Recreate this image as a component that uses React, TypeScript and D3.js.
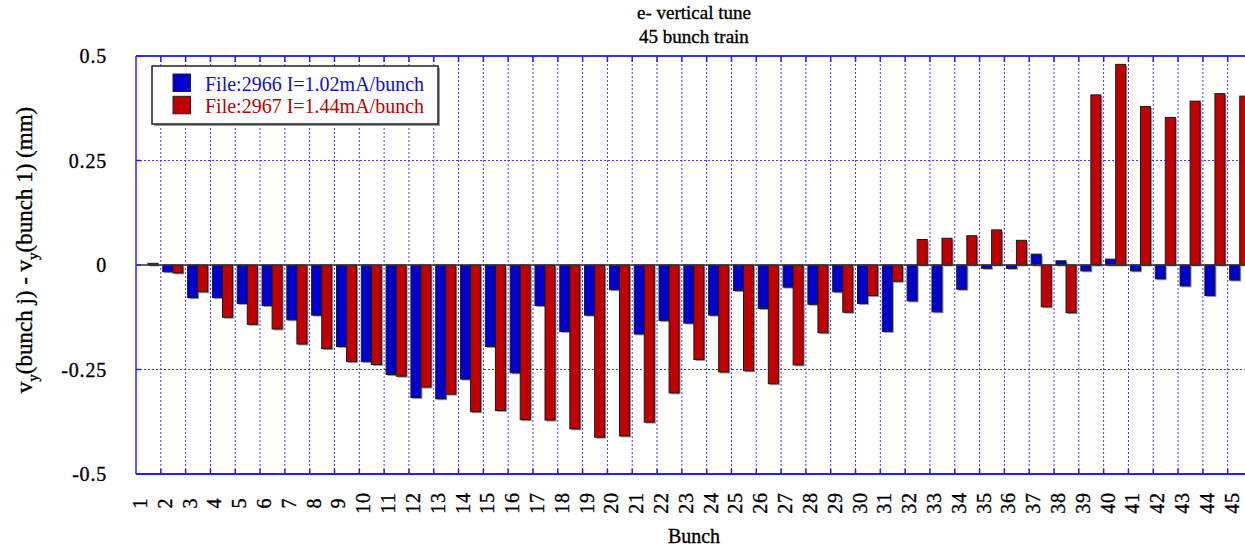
import React from "react";
import * as d3 from "d3";

const bunches: number[] = Array.from({ length: 45 }, (_, i) => i + 1);
const seriesNames = ["File:2966 I=1.02mA/bunch", "File:2967 I=1.44mA/bunch"];
const seriesColors = ["#0000cc", "#c00000"];
const textColors = ["#1010cc", "#c00000"];

const blueValues = [
  0.0, -0.016, -0.078, -0.078, -0.092, -0.097, -0.131, -0.12, -0.195, -0.231,
  -0.262, -0.317, -0.32, -0.273, -0.195, -0.258, -0.097, -0.159, -0.12, -0.059,
  -0.165, -0.133, -0.139, -0.12, -0.061, -0.104, -0.053, -0.094, -0.064, -0.092,
  -0.159, -0.086, -0.112, -0.058, -0.008, -0.008, 0.026, 0.01, -0.014, 0.014,
  -0.014, -0.033, -0.05, -0.073, -0.036,
];
const redValues = [
  0.004, -0.019, -0.064, -0.125, -0.142, -0.153, -0.189, -0.2, -0.231, -0.238,
  -0.266, -0.292, -0.309, -0.351, -0.348, -0.37, -0.371, -0.392, -0.412, -0.409,
  -0.376, -0.306, -0.226, -0.256, -0.253, -0.284, -0.239, -0.162, -0.113, -0.073,
  -0.039, 0.061, 0.064, 0.07, 0.084, 0.059, -0.1, -0.114, 0.407, 0.48,
  0.379, 0.353, 0.392, 0.41, 0.404,
];
const yTicks = [0.5, 0.25, 0, -0.25, -0.5];
const yTickLabels = ["0.5", "0.25", "0", "-0.25", "-0.5"];

const W = 1245;
const H = 548;
const left = 136;
const right = 1252.5;
const top = 56;
const bottom = 474;

export default function App() {
  const x0 = d3.scaleBand<number>().domain(bunches).range([left, right]).paddingInner(0).paddingOuter(0);
  const bw = x0.bandwidth();
  const x1 = d3.scaleBand<number>().domain([0, 1]).range([bw * 0.08, bw * 0.89]);
  const y = d3.scaleLinear().domain([-0.5, 0.5]).range([bottom, top]);
  const all = [blueValues, redValues];
  const gridX = bunches.slice(1).map((b) => x0(b) as number);
  const serif = "'Liberation Serif', 'Times New Roman', serif";
  const heavy = { stroke: "#000", strokeWidth: 0.35 };

  return (
    <svg width={W} height={H} style={{ position: "absolute", left: 0, top: 0, overflow: "hidden", background: "#fff", fontFamily: serif }}>
      <rect x={0} y={0} width={W} height={H} fill="#fff" />
      {/* title */}
      <text x={694} y={19} textAnchor="middle" fontSize={19} fill="#000" {...heavy}>e- vertical tune</text>
      <text x={694} y={43} textAnchor="middle" fontSize={19} fill="#000" {...heavy}>45 bunch train</text>

      {/* gridlines */}
      {gridX.map((gx, i) => (
        <line key={"gx" + i} x1={gx} x2={gx} y1={top} y2={bottom} stroke="#3a3aff" strokeWidth={1} strokeDasharray="2 2" />
      ))}
      {[0.25, -0.25].map((v) => (
        <line key={"gy" + v} x1={left} x2={right} y1={y(v)} y2={y(v)} stroke="#3a3aff" strokeWidth={1} strokeDasharray="2 2" />
      ))}

      {/* bars */}
      {bunches.map((b, i) => (
        <g key={"b" + b} transform={`translate(${x0(b)},0)`}>
          {all.map((vals, s) => {
            const v = vals[i];
            const y0 = y(Math.max(0, v));
            const h = Math.abs(y(v) - y(0));
            const bx = x1(s) as number;
            const bwid = x1.bandwidth();
            return (
              <g key={s}>
                <rect x={bx + 1.5} y={y0 + 1.5} width={bwid} height={h} fill="#9a9a9a" />
                <rect x={bx} y={y0} width={bwid} height={h} fill={seriesColors[s]} stroke="#1a1a1a" strokeWidth={1} />
              </g>
            );
          })}
        </g>
      ))}

      {/* zero line */}
      <line x1={left} x2={right} y1={y(0)} y2={y(0)} stroke="#333" strokeWidth={1.5} />

      {/* frame */}
      <line x1={left} x2={right} y1={top} y2={top} stroke="#3030ff" strokeWidth={2} />
      <line x1={left} x2={right} y1={bottom} y2={bottom} stroke="#2020ff" strokeWidth={2} />
      <line x1={left} x2={left} y1={top} y2={bottom} stroke="#5a5aff" strokeWidth={2} />
      {gridX.map((gx, i) => (
        <g key={"tk" + i}>
          <line x1={gx} x2={gx} y1={top} y2={top + 6} stroke="#2020ff" strokeWidth={1.5} />
          <line x1={gx} x2={gx} y1={bottom} y2={bottom - 5} stroke="#2020ff" strokeWidth={1.5} />
        </g>
      ))}
      {yTicks.map((v) => (
        <line key={"yt" + v} x1={left} x2={left + 5} y1={y(v)} y2={y(v)} stroke="#2020ff" strokeWidth={1.5} />
      ))}

      {/* y tick labels */}
      {yTicks.map((v, i) => (
        <text key={"yl" + v} x={107} y={y(v)} dy="0.35em" textAnchor="end" fontSize={20} letterSpacing={0.8} fill="#000" {...heavy}>
          {yTickLabels[i]}
        </text>
      ))}

      {/* x tick labels */}
      {bunches.map((b) => (
        <text
          key={"xl" + b}
          transform={`translate(${(x0(b) as number) + 4},503) rotate(-90)`}
          textAnchor="middle"
          dy="0.35em"
          fontSize={20}
          letterSpacing={0.8}
          fill="#000"
          {...heavy}
        >
          {String(b)}
        </text>
      ))}

      {/* axis titles */}
      <text x={694} y={543} textAnchor="middle" fontSize={20} fill="#000" {...heavy}>Bunch</text>
      <text transform="translate(32,250) rotate(-90)" textAnchor="middle" fontSize={23} fill="#000" {...heavy}>
        <tspan>v</tspan>
        <tspan fontSize={15} dy={6}>y</tspan>
        <tspan dy={-6}>(bunch j) - v</tspan>
        <tspan fontSize={15} dy={6}>y</tspan>
        <tspan dy={-6}>(bunch 1) (mm)</tspan>
      </text>

      {/* legend */}
      <rect x={154} y={68} width={286} height={58} fill="#999" />
      <rect x={152} y={66} width={286} height={58} fill="#fff" stroke="#222" strokeWidth={1.5} />
      {seriesNames.map((n, s) => (
        <g key={"lg" + s}>
          <rect x={173} y={74 + s * 22.3} width={17.5} height={17.5} fill={seriesColors[s]} stroke="#222" strokeWidth={1} />
          <text x={205} y={90.5 + s * 22.3} fontSize={20} fill={textColors[s]}>{n}</text>
        </g>
      ))}
    </svg>
  );
}
